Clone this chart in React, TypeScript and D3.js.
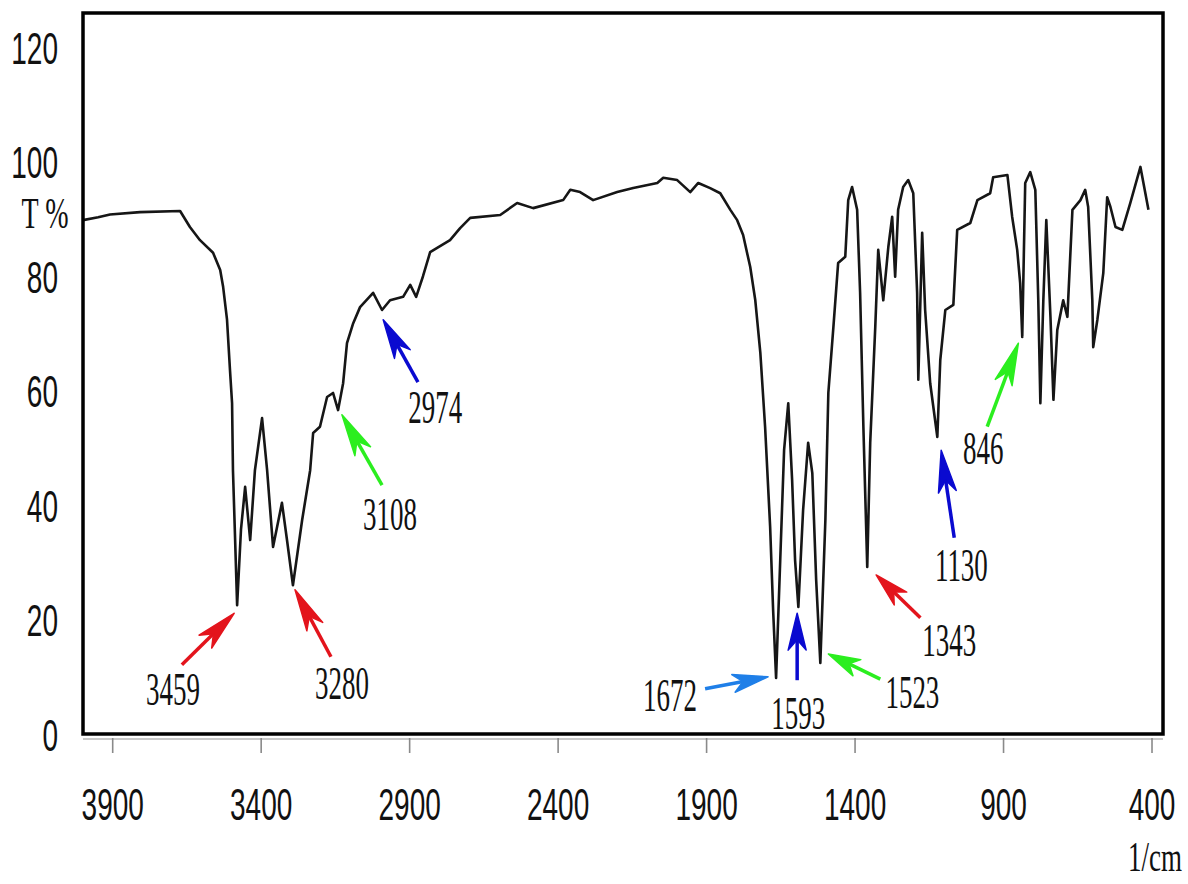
import * as d3 from 'd3';

// FT-IR spectrum (wavenumber in 1/cm, transmittance %)
const WAVENUMBER = [
  4000, 3949, 3909, 3808, 3673, 3640, 3606, 3562, 3538, 3528, 3515, 3505, 3498, 3495, 3488, 3481,
  3468, 3454, 3437, 3421, 3397, 3380, 3360, 3330, 3313, 3293, 3262, 3235, 3225, 3202, 3178, 3158,
  3141, 3124, 3111, 3090, 3067, 3023, 2993, 2966, 2922, 2898, 2878, 2855, 2831, 2764, 2730, 2696,
  2595, 2538, 2484, 2383, 2359, 2326, 2282, 2201, 2147, 2066, 2046, 1999, 1955, 1928, 1888, 1854,
  1820, 1797, 1777, 1753, 1736, 1719, 1703, 1686, 1676, 1666, 1652, 1639, 1625, 1612, 1602, 1591,
  1575, 1558, 1544, 1531, 1517, 1500, 1490, 1473, 1457, 1433, 1423, 1410, 1393, 1383, 1372, 1359,
  1349, 1332, 1322, 1305, 1288, 1275, 1265, 1255, 1238, 1221, 1204, 1191, 1187, 1174, 1164, 1147,
  1123, 1113, 1096, 1069, 1056, 1012, 988, 945, 935, 887, 871, 854, 844, 837, 827, 810,
  793, 783, 776, 766, 756, 742, 732, 719, 699, 685, 668, 641, 625, 615, 601, 598,
  584, 564, 551, 540, 523, 500, 473, 439, 412,
];
const TRANSMITTANCE = [
  89.8, 90.3, 90.8, 91.2, 91.4, 88.6, 86.3, 84.1, 81.1, 78.1, 72.4, 63.6, 57.8, 46.1, 34.4, 22.5,
  35.7, 43.2, 33.9, 46.1, 55.2, 46.1, 32.7, 40.4, 33.9, 26.0, 37.4, 46.1, 52.6, 53.7, 58.9, 59.6,
  56.6, 61.3, 68.3, 71.8, 74.6, 77.1, 74.1, 75.8, 76.4, 78.5, 76.4, 80.0, 84.2, 86.3, 88.4, 90.2,
  90.7, 92.8, 91.9, 93.3, 95.1, 94.7, 93.3, 94.7, 95.4, 96.3, 97.2, 96.8, 94.7, 96.3, 95.4, 94.5,
  91.6, 89.8, 87.2, 81.6, 75.8, 66.6, 53.7, 36.2, 21.7, 9.8, 30.4, 49.6, 57.8, 44.4, 30.4, 22.2,
  39.1, 50.9, 45.6, 26.9, 12.4, 37.4, 59.6, 71.1, 82.3, 83.4, 93.3, 95.6, 91.6, 77.1, 53.7, 29.2,
  50.9, 71.1, 84.6, 75.8, 85.1, 90.4, 79.9, 91.6, 95.6, 96.8, 94.5, 77.1, 61.9, 87.6, 74.1, 61.3,
  51.9, 65.4, 74.1, 75.0, 88.1, 89.3, 93.3, 94.5, 97.3, 97.7, 90.4, 84.6, 78.8, 69.4, 96.3, 98.2,
  95.1, 75.8, 57.8, 75.8, 89.8, 72.9, 58.4, 70.6, 75.8, 72.9, 91.6, 93.3, 95.1, 92.1, 75.8, 67.6,
  72.4, 80.6, 93.8, 92.1, 88.6, 88.1, 92.8, 99.1, 91.6,
];

const X_TICKS = [3900, 3400, 2900, 2400, 1900, 1400, 900, 400];
const Y_TICKS = [0, 20, 40, 60, 80, 100, 120];

// peak labels: text, arrow tail, arrow tip, label centre (data units), colour group
const PEAK_LABELS = ['3459', '3280', '3108', '2974', '1672', '1593', '1523', '1343', '1130', '846'];
const ARROW_TAIL: [number, number][] = [
  [3667, 12.1], [3165, 13.5], [2993, 43.5], [2872, 61.5], [1905, 7.9],
  [1595, 9.4], [1315, 9.6], [1180, 20.3], [1066, 34.3], [955, 53.7],
];
const ARROW_TIP: [number, number][] = [
  [3491, 21.1], [3286, 25.2], [3128, 55.8], [2989, 72.4], [1693, 10.0],
  [1595, 21.1], [1490, 14.0], [1329, 27.8], [1110, 49.6], [850, 68.3],
];
const LABEL_AT: [number, number][] = [
  [3697, 7.9], [3128, 8.9], [2966, 38.4], [2814, 57.1], [2023, 6.8],
  [1591, 3.7], [1207, 7.3], [1083, 16.4], [1042, 29.5], [968, 50.0],
];
const ARROW_KIND = ['red', 'red', 'green', 'blue', 'lightblue', 'blue', 'green', 'red', 'blue', 'green'];

const KIND_COLOR: Record<string, string> = {
  red: '#e3141c',
  green: '#2bee1f',
  blue: '#0a0ad0',
  lightblue: '#1f7fe8',
};

const W = 1188;
const H = 884;
const box = { left: 83, top: 13, right: 1163, bottom: 734 };

const SANS = '"Liberation Sans", Arial, sans-serif';
const SERIF = '"Liberation Serif", "Times New Roman", serif';

function Tall({ x, y, sy, size, family, anchor = 'middle', children }: {
  x: number; y: number; sy: number; size: number; family: string; anchor?: string; children: string;
}) {
  return (
    <g transform={`translate(${x},${y}) scale(1,${sy})`}>
      <text textAnchor={anchor} dominantBaseline="central" fontFamily={family} fontSize={size} fill="#111">
        {children}
      </text>
    </g>
  );
}

export default function App() {
  const x = d3.scaleLinear().domain([4000, 363]).range([box.left, box.right]);
  const y = d3.scaleLinear().domain([0, 126]).range([box.bottom, box.top]);

  const points: [number, number][] = WAVENUMBER.map((w, i) => [w, TRANSMITTANCE[i]]);
  const line = d3.line<[number, number]>().x((d) => x(d[0])).y((d) => y(d[1]));

  const arrows = PEAK_LABELS.map((label, i) => {
    const x0 = x(ARROW_TAIL[i][0]);
    const y0 = y(ARROW_TAIL[i][1]);
    const x1 = x(ARROW_TIP[i][0]);
    const y1 = y(ARROW_TIP[i][1]);
    const ang = Math.atan2(y1 - y0, x1 - x0);
    const len = Math.hypot(x1 - x0, y1 - y0);
    const headL = Math.min(42, len * 0.55);
    const headW = 9;
    return { label, x0, y0, x1, y1, ang, len, headL, headW, color: KIND_COLOR[ARROW_KIND[i]], lx: x(LABEL_AT[i][0]), ly: y(LABEL_AT[i][1]) };
  });

  return (
    <svg width={W} height={H} style={{ position: 'absolute', left: 0, top: 0, background: '#fff' }}>
      <rect x={0} y={0} width={W} height={H} fill="#fff" />

      {/* x ticks below the frame */}
      <line x1={box.left} x2={box.right} y1={box.bottom + 5} y2={box.bottom + 5} stroke="#c8c8c8" strokeWidth={2} />
      {X_TICKS.map((t) => (
        <line key={t} x1={x(t)} x2={x(t)} y1={box.bottom + 4} y2={box.bottom + 19} stroke="#8a8a8a" strokeWidth={1.6} />
      ))}

      {/* spectrum */}
      <path d={line(points) ?? ''} fill="none" stroke="#161616" strokeWidth={2.6} strokeLinejoin="round" />

      {/* frame */}
      <rect x={box.left} y={box.top} width={box.right - box.left} height={box.bottom - box.top}
        fill="none" stroke="#000" strokeWidth={3.5} />

      {/* tick labels */}
      {X_TICKS.map((t) => (
        <Tall key={t} x={x(t)} y={804} sy={1.6} size={28} family={SANS}>{String(t)}</Tall>
      ))}
      {Y_TICKS.map((t) => (
        <Tall key={t} x={58} y={y(t) + 1} sy={1.6} size={28} family={SANS} anchor="end">{String(t)}</Tall>
      ))}

      <Tall x={45} y={213} sy={1.6} size={28} family={SERIF}>T %</Tall>
      <Tall x={1155} y={857} sy={1.55} size={27} family={SERIF}>1/cm</Tall>

      {/* peak arrows */}
      {arrows.map((a) => {
        const deg = (a.ang * 180) / Math.PI;
        return (
          <g key={a.label}>
            <g transform={`translate(${a.x1},${a.y1}) rotate(${deg})`} fill={a.color} stroke={a.color}>
              <line x1={-a.len} y1={0} x2={-a.headL * 0.6} y2={0} strokeWidth={3.5} />
              <polygon
                points={`0,0 ${-a.headL},${a.headW} ${-a.headL * 0.72},0 ${-a.headL},${-a.headW}`}
                strokeWidth={1.5}
                strokeLinejoin="round"
              />
            </g>
            <Tall x={a.lx} y={a.ly} sy={1.75} size={27} family={SERIF}>{a.label}</Tall>
          </g>
        );
      })}
    </svg>
  );
}
